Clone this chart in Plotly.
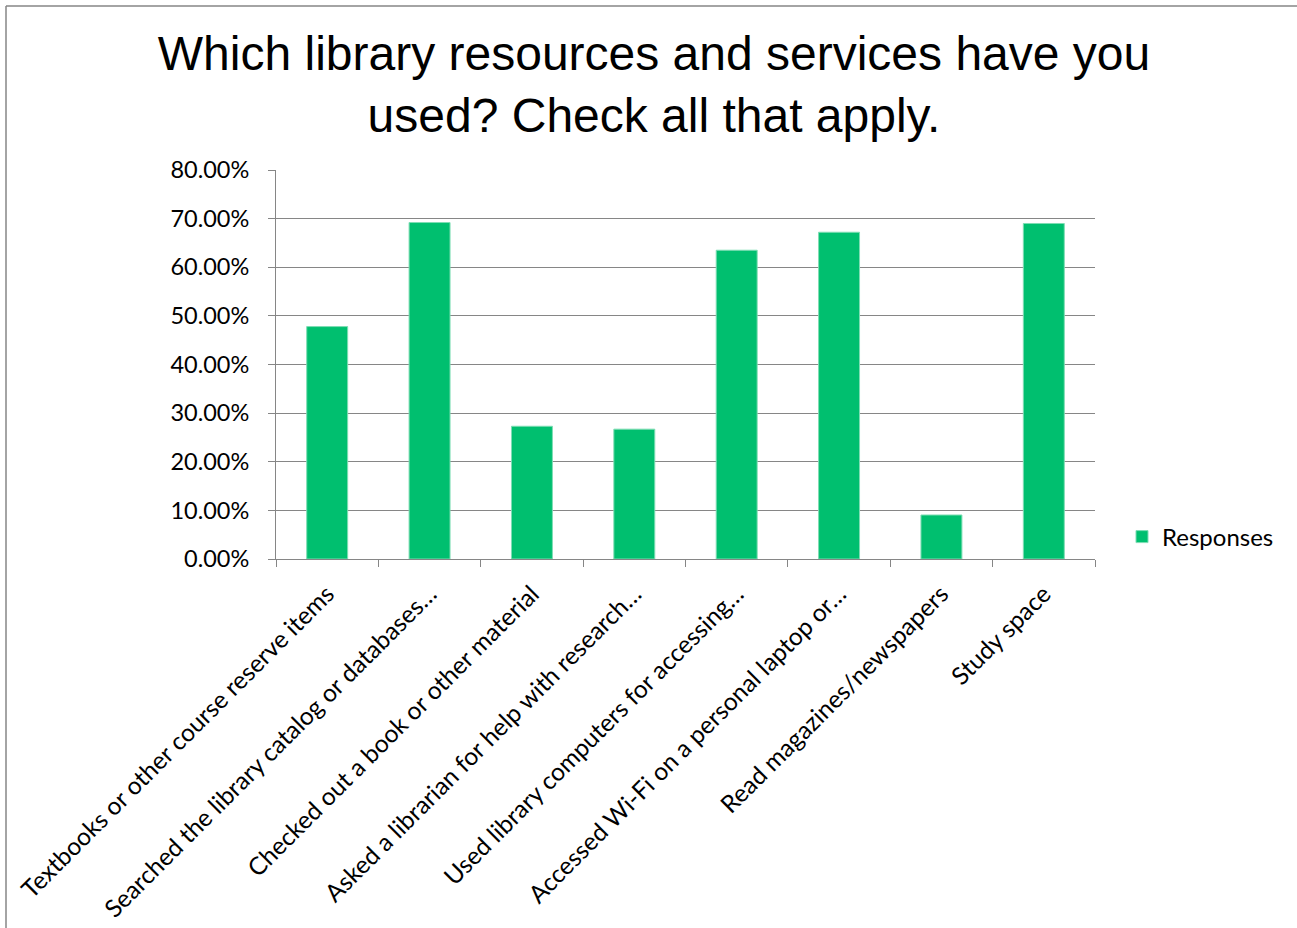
import plotly.graph_objects as go

categories = [
    "Textbooks or other course reserve items",
    "Searched the library catalog or databases…",
    "Checked out a book or other material",
    "Asked a librarian for help with research…",
    "Used library computers for accessing…",
    "Accessed Wi-Fi on a personal laptop or…",
    "Read magazines/newspapers",
    "Study space",
]
responses = [0.478, 0.692, 0.273, 0.267, 0.635, 0.672, 0.0905, 0.690]
y_ticks = [0, 0.1, 0.2, 0.3, 0.4, 0.5, 0.6, 0.7, 0.8]

W, H = 1297, 928
L, R, T, B = 276, 202, 170, 369
pw, ph = W - L - R, H - T - B

fig = go.Figure()
fig.add_trace(go.Bar(
    x=categories, y=responses, name="Responses",
    marker=dict(color="#00BF6F", line=dict(color="#7EDDB4", width=1)),
    width=0.4, showlegend=True,
))

y_font = dict(family="Lato, Calibri, sans-serif", size=23.5, color="#000000")
x_font = dict(family="Lato, Calibri, sans-serif", size=24.5, color="#000000")

def px_x(p):
    return (p - L) / pw

def px_y(p):
    return 1 + (T - p) / ph

fig.update_layout(
    width=W, height=H,
    margin=dict(l=L, r=R, t=T, b=B, autoexpand=False),
    paper_bgcolor="white", plot_bgcolor="white",
    title=dict(
        text="Which library resources and services have you<br>used? Check all that apply.",
        font=dict(family="Liberation Sans, Arial, sans-serif", size=48, color="#000000"),
        x=654 / W, xanchor="center", xref="container",
        y=1 - 70 / H, yanchor="middle", yref="container",
    ),
    xaxis=dict(
        tickangle=-45, tickfont=x_font, showgrid=False, automargin=False,
        showline=True, linecolor="#868686", linewidth=1,
        ticks="outside", tickson="boundaries", ticklen=7, tickcolor="#868686",
        ticklabelstandoff=10,
    ),
    yaxis=dict(
        range=[0, 0.8], tickvals=y_ticks, tickformat=".2%", automargin=False,
        tickfont=y_font, showgrid=True, gridcolor="#868686", gridwidth=1,
        showline=True, linecolor="#868686", linewidth=1,
        ticks="outside", ticklen=7, tickcolor="#868686", zeroline=False,
        ticklabelstandoff=14,
    ),
    legend=dict(
        x=px_x(1122), xanchor="left", y=px_y(537), yanchor="middle",
        font=dict(family="Lato, Calibri, sans-serif", size=24, color="#000000"),
        bgcolor="rgba(0,0,0,0)",
    ),
    bargap=0.6,
    shapes=[
        dict(type="line", xref="paper", yref="paper",
             x0=px_x(6), x1=px_x(1400), y0=px_y(6), y1=px_y(6),
             line=dict(color="#868686", width=1.5)),
        dict(type="line", xref="paper", yref="paper",
             x0=px_x(6), x1=px_x(6), y0=px_y(6), y1=px_y(1000),
             line=dict(color="#868686", width=1.5)),
    ],
)

fig.write_html("out.html", config={"displayModeBar": False},
               post_script="document.body.style.margin='0';")
